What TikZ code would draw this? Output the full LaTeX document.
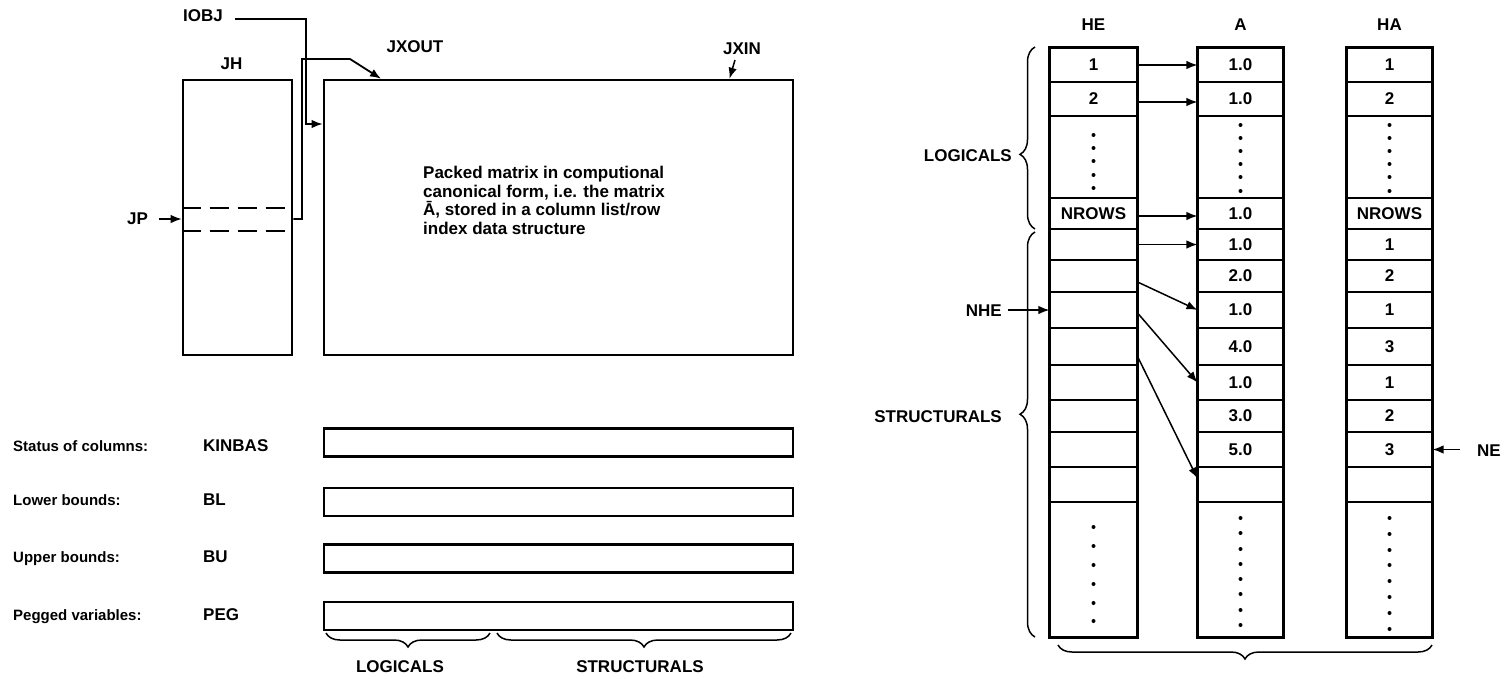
\documentclass[tikz,border=0pt]{standalone}
\usepackage{fontspec}
\setmainfont{Liberation Sans}
\usetikzlibrary{arrows.meta,decorations.pathreplacing}
\begin{document}
\begin{tikzpicture}[x=1pt,y=-1pt,
  every node/.style={font=\bfseries\fontsize{17}{18.5}\selectfont, inner sep=0pt},
  desc/.style={font=\bfseries\fontsize{15}{18}\selectfont},
  heavy/.style={draw, line width=2.6pt},
  cellbox/.style={draw, line width=1.1pt, inner sep=0pt, anchor=center},
  arr/.style={line width=1.5pt, -{Latex[length=11pt,width=8.5pt]}},
  dashline/.style={line width=2.2pt, dash pattern=on 19pt off 9pt},
  brc/.style={decorate, line width=1.5pt}
]
\useasboundingbox (0,0) rectangle (1505,678);
\fill[white] (0,0) rectangle (1505,678);

% ---------------- left: JH and packed matrix
\node[heavy, minimum width=109pt, minimum height=275pt] (JH) at (237.5,217.5) {};
\node[anchor=base] (JHlbl) at (231.5,69) {JH};
\node[heavy, minimum width=469pt, minimum height=275pt] (mat) at (558.5,217.5) {};
\node[anchor=north west, align=left] (mattext) at (423,166)
  {Packed matrix in computional\\canonical form, i.e. the matrix\\Ā, stored in a column list/row\\index data structure};

\coordinate (dashA) at (0,208);
\coordinate (dashB) at (0,231);
\draw[dashline] (JH.west |- dashA) -- (JH.east |- dashA);
\draw[dashline] (JH.west |- dashB) -- (JH.east |- dashB);

\node[anchor=base west] (JPlbl) at (127,224) {JP};
\coordinate (jpS) at (159,219);
\draw[arr] (jpS) -- (JH.west |- jpS);

\coordinate (jpR) at (302,219);
\coordinate (jxA) at (302,59);
\coordinate (jxB) at (350,59);
\coordinate (jxT) at (381,78.7);
\draw[arr, line width=1.8pt] (JH.east |- jpR) -- (jpR) -- (jxA) -- (jxB) -- (jxT);

\node[anchor=base west] (IOBJ) at (183,21) {IOBJ};
\coordinate (ioA) at (235,19);
\coordinate (ioB) at (306,19);
\coordinate (ioC) at (306,124);
\draw[arr, line width=1.8pt] (ioA) -- (ioB) -- (ioC) -- (mat.west |- ioC);

\node[anchor=base] (JXOUT) at (415,52) {JXOUT};
\node[anchor=base] (JXIN) at (742,54) {JXIN};
\coordinate (jiA) at (735,60);
\coordinate (jiT) at (729.5,78.7);
\draw[arr] (jiA) -- (jiT);

% ---------------- left: status rows
\foreach \n/\t/\v/\yc/\yb in {KIN/Status of columns:/KINBAS/442.5/451,
                              BL/Lower bounds:/BL/502/505,
                              BU/Upper bounds:/BU/558.5/562,
                              PEG/Pegged variables:/PEG/616/620}
{
  \node[desc, anchor=base west] (\n-desc) at (13,\yb) {\t};
  \node[anchor=base west] (\n-name) at (203,\yb) {\v};
  \node[heavy, line width=2.2pt, minimum width=469pt, minimum height=28pt] (\n-box) at (558.5,\yc) {};
}
\coordinate (bL1) at (326,633);
\coordinate (bL2) at (490,633);
\coordinate (bS1) at (497,633);
\coordinate (bS2) at (791,633);
\draw[brc, decoration={brace, amplitude=14pt}] (bL2) -- (bL1);
\draw[brc, decoration={brace, amplitude=14pt}] (bS2) -- (bS1);
\node[anchor=base] (botLOG) at (400,672) {LOGICALS};
\node[anchor=base] (botSTR) at (640,672) {STRUCTURALS};

% ---------------- right: HE, A, HA
\node[anchor=base] (HElbl) at (1093.5,30) {HE};
\node[anchor=base] (Albl) at (1240.5,30) {A};
\node[anchor=base] (HAlbl) at (1389.5,30) {HA};

\foreach \i/\t/\b/\s in {1/48/82/1, 2/82/116/2, 3/116/198/{}, 4/198/229/NROWS,
   5/229/260/{}, 6/260/292/{}, 7/292/328/{}, 8/328/365/{}, 9/365/400/{},
   10/400/432/{}, 11/432/467/{}, 12/467/502/{}, 13/502/637/{}}
  \node[cellbox, minimum width=87pt, minimum height={\b-\t}] (HE-\i) at (1093.5,{(\t+\b)/2}) {\s};

\foreach \i/\t/\b/\s in {1/48/82/1.0, 2/82/116/1.0, 3/116/198/{}, 4/198/229/1.0,
   5/229/260/1.0, 6/260/292/2.0, 7/292/328/1.0, 8/328/365/4.0, 9/365/400/1.0,
   10/400/432/3.0, 11/432/467/5.0, 12/467/502/{}, 13/502/637/{}}
  \node[cellbox, minimum width=85pt, minimum height={\b-\t}] (A-\i) at (1240.5,{(\t+\b)/2}) {\s};

\foreach \i/\t/\b/\s in {1/48/82/1, 2/82/116/2, 3/116/198/{}, 4/198/229/NROWS,
   5/229/260/1, 6/260/292/2, 7/292/328/1, 8/328/365/3, 9/365/400/1,
   10/400/432/2, 11/432/467/3, 12/467/502/{}, 13/502/637/{}}
  \node[cellbox, minimum width=85pt, minimum height={\b-\t}] (HA-\i) at (1389.5,{(\t+\b)/2}) {\s};

\draw[line width=2.6pt] (HE-1.north west) rectangle (HE-13.south east);
\draw[line width=2.6pt] (A-1.north west) rectangle (A-13.south east);
\draw[line width=2.6pt] (HA-1.north west) rectangle (HA-13.south east);

% dots
\foreach \y in {135,148,161,175,188} \fill (1093.5,\y) circle (2pt);
\foreach \y in {125,138,151,164,177,191} { \fill (1240.5,\y) circle (2pt); \fill (1389.5,\y) circle (2pt); }
\foreach \y in {527,546,565,584,603,621} \fill (1093.5,\y) circle (2pt);
\foreach \y in {518,533,549,564,579,594,610,625} \fill (1240.5,\y) circle (2pt);
\foreach \y in {518,534,550,565,581,597,613,629} \fill (1389.5,\y) circle (2pt);

% pointers HE -> A
\draw[arr] (HE-1.east) -- (A-1.west);
\draw[arr] ([yshift=-3pt]HE-2.east) -- ([yshift=-3pt]A-2.west);
\draw[arr] ([yshift=-2.5pt]HE-4.east) -- ([yshift=-2.5pt]A-4.west);
\draw[arr] (HE-5.east) -- (A-5.west);
\draw[arr] ([yshift=-6pt]HE-6.east) -- (A-7.west);
\draw[arr] ([yshift=-3pt]HE-7.east) -- (A-9.west);
\draw[arr] ([yshift=-10pt]HE-8.east) -- ([yshift=6pt]A-12.west);

% braces right
\draw[brc, decoration={brace, amplitude=15pt, aspect=0.41}] (1035,229) -- (1035,47);
\draw[brc, decoration={brace, amplitude=15pt, aspect=0.55}] (1035,637) -- (1035,232);
\draw[brc, decoration={brace, amplitude=14pt, aspect=0.5}] (1432,645) -- (1058,645);
\node[anchor=base east] (rLOG) at (1012,161) {LOGICALS};
\node[anchor=base east] (rSTR) at (1002,422) {STRUCTURALS};

% NHE, NE
\node[anchor=base east] (NHE) at (1002,316) {NHE};
\coordinate (nheS) at (1008,310);
\draw[arr] (nheS) -- (HE-7.west);
\node[anchor=base west] (NE) at (1477,456) {NE};
\coordinate (neS) at (1460,449.5);
\draw[arr] (neS) -- (HA-11.east);
\end{tikzpicture}
\end{document}
